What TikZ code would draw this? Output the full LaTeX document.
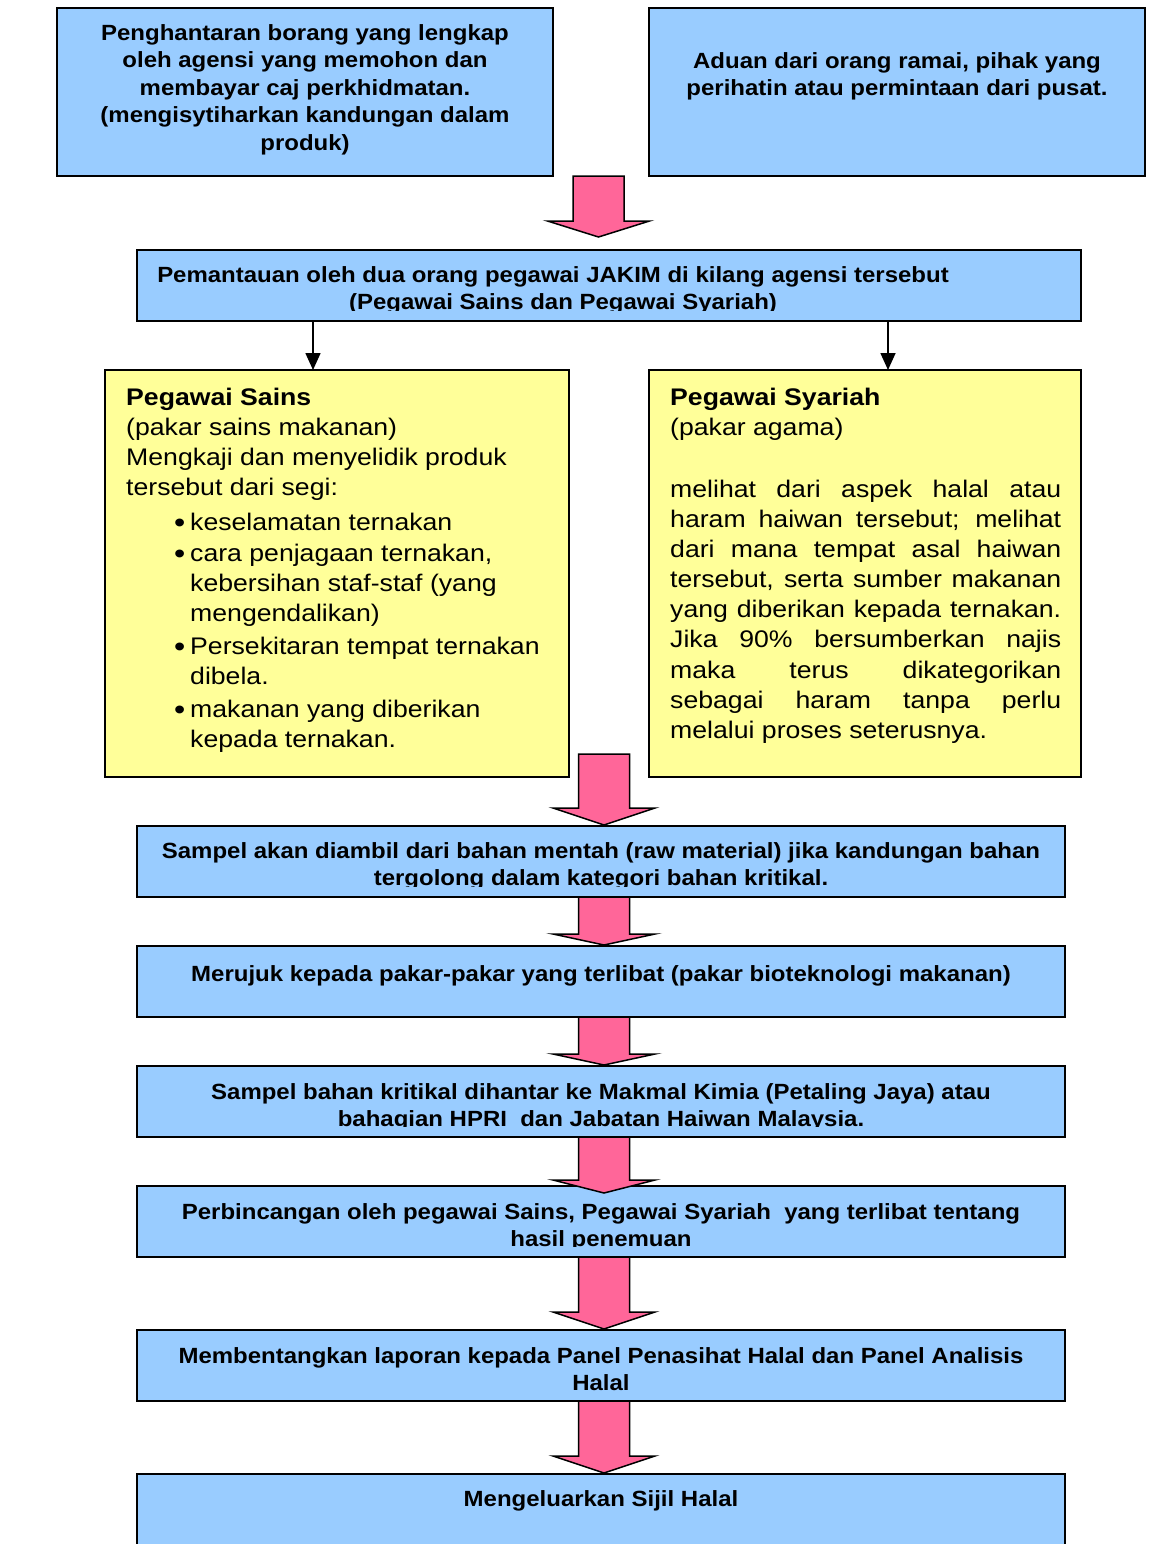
\documentclass[tikz,border=0pt]{standalone}
\usepackage{fontspec}
\setmainfont{Liberation Sans}
\newfontfamily\bluefont[FakeStretch=1.09]{Liberation Sans}
\newfontfamily\yelfont[FakeStretch=1.11]{Liberation Sans}
\usetikzlibrary{calc,arrows.meta}
\definecolor{boxblue}{HTML}{99CCFF}
\definecolor{boxyellow}{HTML}{FFFF99}
\definecolor{arrowpink}{HTML}{FF6699}
% #1 from anchor, #2 start shift (up), #3 to anchor, #4 tip gap (up), #5 x centre, #6 head length
\newcommand\pinkarr[6]{%
  \draw[pinkarrow] let \p1=(#1), \p2=(#3) in
    (#5-25.5,\y1+#2) -- (#5+25.5,\y1+#2) -- (#5+25.5,\y2+#4+#6) -- (#5+51,\y2+#4+#6)
    -- (#5,\y2+#4) -- (#5-51,\y2+#4+#6) -- (#5-25.5,\y2+#4+#6) -- cycle;}
\newcommand\bul{\llap{\raisebox{-2pt}{\scalebox{1.2}{•}}\hspace{5pt}}}
\begin{document}
\begin{tikzpicture}[x=1pt,y=1pt,
  bluebox/.style={draw=black, line width=1.6pt, fill=boxblue, inner sep=0pt, outer sep=0pt},
  yelbox/.style={draw=black, line width=1.6pt, fill=boxyellow, inner sep=0pt, outer sep=0pt},
  btext/.style={font=\bluefont\fontsize{22}{27.6}\selectfont\bfseries, align=center, inner sep=0pt, anchor=north},
  ytext/.style={font=\yelfont\fontsize{24}{30}\selectfont, inner sep=0pt, anchor=base west},
  ytitle/.style={ytext, font=\yelfont\fontsize{24}{30}\selectfont\bfseries},
  pinkarrow/.style={draw=black, line width=1.5pt, fill=arrowpink, line join=miter},
  thinarr/.style={draw=black, line width=1.6pt, -{Triangle[length=17pt,width=15pt]}}
]
\useasboundingbox (0,0) rectangle (1149,-1544);
\fill[white] (0,0) rectangle (1149,-1544);

% boxes
\node[bluebox, minimum width=496pt, minimum height=168pt] (a) at (305,-92) {};
\node[bluebox, minimum width=496pt, minimum height=168pt] (b) at (897,-92) {};
\node[bluebox, minimum width=944pt, minimum height=71pt] (c) at (609,-285.5) {};
\node[yelbox, minimum width=464pt, minimum height=407pt] (d) at (337,-573.5) {};
\node[yelbox, minimum width=432pt, minimum height=407pt] (e) at (865,-573.5) {};
\node[bluebox, minimum width=928pt, minimum height=71pt] (f) at (601,-861.5) {};
\node[bluebox, minimum width=928pt, minimum height=71pt] (g) at (601,-981.5) {};
\node[bluebox, minimum width=928pt, minimum height=71pt] (h) at (601,-1101.5) {};
\node[bluebox, minimum width=928pt, minimum height=71pt] (i) at (601,-1221.5) {};
\node[bluebox, minimum width=928pt, minimum height=71pt] (j) at (601,-1365.5) {};
\node[bluebox, minimum width=928pt, minimum height=80pt] (k) at (601,-1514) {};

% blue texts
\node[btext] (ta) at (305,-23) {\rule{0pt}{17pt}Penghantaran borang yang lengkap\\oleh agensi yang memohon dan\\membayar caj perkhidmatan.\\(mengisytiharkan kandungan dalam\\produk)};
\node[btext] (tb) at (897,-51) {\rule{0pt}{17pt}Aduan dari orang ramai, pihak yang\\perihatin atau permintaan dari pusat.};
\begin{scope}
  \clip (c.north west) rectangle ([yshift=10.5pt]c.south east);
  \node[btext] (tc) at (553,-265) {\rule{0pt}{17pt}Pemantauan oleh dua orang pegawai JAKIM di kilang agensi tersebut\\\hspace*{20pt}(Pegawai Sains dan Pegawai Syariah)};
\end{scope}
\begin{scope}
  \clip (f.north west) rectangle ([yshift=10.5pt]f.south east);
  \node[btext] (tf) at (601,-841) {\rule{0pt}{17pt}Sampel akan diambil dari bahan mentah (raw material) jika kandungan bahan\\tergolong dalam kategori bahan kritikal.};
\end{scope}
\node[btext] (tg) at (601,-964) {\rule{0pt}{17pt}Merujuk kepada pakar-pakar yang terlibat (pakar bioteknologi makanan)};
\begin{scope}
  \clip (h.north west) rectangle ([yshift=10.5pt]h.south east);
  \node[btext] (th) at (601,-1082) {\rule{0pt}{17pt}Sampel bahan kritikal dihantar ke Makmal Kimia (Petaling Jaya) atau\\bahagian HPRI\ \ dan Jabatan Haiwan Malaysia.};
\end{scope}
\begin{scope}
  \clip (i.north west) rectangle ([yshift=10.5pt]i.south east);
  \node[btext] (ti) at (601,-1202) {\rule{0pt}{17pt}Perbincangan oleh pegawai Sains, Pegawai Syariah\ \ yang terlibat tentang\\hasil penemuan};
\end{scope}
\node[btext] (tj) at (601,-1346) {\rule{0pt}{17pt}Membentangkan laporan kepada Panel Penasihat Halal dan Panel Analisis\\Halal};
\node[btext] (tk) at (601,-1489) {\rule{0pt}{17pt}Mengeluarkan Sijil Halal};

% left yellow texts
\node[ytitle] (s1) at (126,-405) {Pegawai Sains};
\node[ytext] (s2) at (126,-435) {(pakar sains makanan)};
\node[ytext] (s3) at (126,-465) {Mengkaji dan menyelidik produk};
\node[ytext] (s4) at (126,-495) {tersebut dari segi:};
\node[ytext] (s5) at (190,-530) {\bul keselamatan ternakan};
\node[ytext] (s6) at (190,-561) {\bul cara penjagaan ternakan,};
\node[ytext] (s7) at (190,-591) {kebersihan staf-staf (yang};
\node[ytext] (s8) at (190,-621) {mengendalikan)};
\node[ytext] (s9) at (190,-654) {\bul Persekitaran tempat ternakan};
\node[ytext] (s10) at (190,-684) {dibela.};
\node[ytext] (s11) at (190,-717) {\bul makanan yang diberikan};
\node[ytext] (s12) at (190,-747) {kepada ternakan.};

% right yellow texts
\node[ytitle] (r1) at (670,-405) {Pegawai Syariah};
\node[ytext] (r2) at (670,-435) {(pakar agama)};
\node[ytext] (r3) at (670,-497) {\makebox[391pt][s]{melihat dari aspek halal atau}};
\node[ytext] (r4) at (670,-527) {\makebox[391pt][s]{haram haiwan tersebut; melihat}};
\node[ytext] (r5) at (670,-557) {\makebox[391pt][s]{dari mana tempat asal haiwan}};
\node[ytext] (r6) at (670,-587) {\makebox[391pt][s]{tersebut, serta sumber makanan}};
\node[ytext] (r7) at (670,-617) {\makebox[391pt][s]{yang diberikan kepada ternakan.}};
\node[ytext] (r8) at (670,-647) {\makebox[391pt][s]{Jika 90\% bersumberkan najis}};
\node[ytext] (r9) at (670,-678) {\makebox[391pt][s]{maka terus dikategorikan}};
\node[ytext] (r10) at (670,-708) {\makebox[391pt][s]{sebagai haram tanpa perlu}};
\node[ytext] (r11) at (670,-738) {melalui proses seterusnya.};

% thin arrows
\draw[thinarr] let \p1=(c.south), \p2=(d.north) in (313,\y1) -- (313,\y2);
\draw[thinarr] let \p1=(c.south), \p2=(e.north) in (888,\y1) -- (888,\y2);

% pink block arrows
\pinkarr{a.south}{0}{c.north}{13}{598.5}{16}
\pinkarr{d.south}{23}{f.north}{1}{604}{17}
\pinkarr{f.south}{0}{g.north}{1}{604}{11}
\pinkarr{g.south}{0}{h.north}{1}{604}{11}
\pinkarr{h.south}{0}{i.north}{-7}{604}{13}
\pinkarr{i.south}{0}{j.north}{1}{604}{17}
\pinkarr{j.south}{0}{k.north}{1}{604}{17}
\end{tikzpicture}
\end{document}
